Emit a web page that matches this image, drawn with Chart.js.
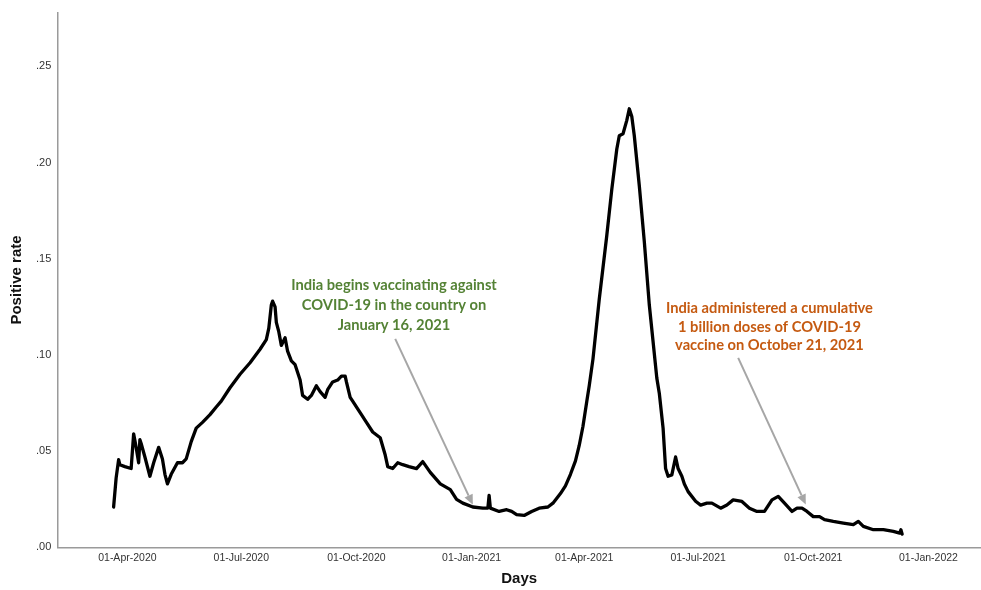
<!DOCTYPE html>
<html>
<head>
<meta charset="utf-8">
<script src="https://cdn.jsdelivr.net/npm/chart.js@4"></script>
<style>
  html, body { margin: 0; padding: 0; background: #fff; }
  #wrap { width: 981px; height: 590px; position: relative; }
</style>
</head>
<body>
<div id="wrap"><canvas id="chart"></canvas></div>
<script>
// Daily positive test rate, India (7-day smoothed)
const dates = [
  '2020-03-21','2020-03-23','2020-03-25','2020-03-26','2020-03-30','2020-04-04','2020-04-06','2020-04-08',
  '2020-04-10','2020-04-11','2020-04-12','2020-04-15','2020-04-19','2020-04-22','2020-04-26','2020-04-29',
  '2020-05-01','2020-05-03','2020-05-06','2020-05-11','2020-05-15','2020-05-18','2020-05-22','2020-05-26',
  '2020-05-31','2020-06-06','2020-06-11','2020-06-15','2020-06-22','2020-06-30','2020-07-08','2020-07-16',
  '2020-07-21','2020-07-23','2020-07-25','2020-07-26','2020-07-28','2020-07-29','2020-07-31','2020-08-02',
  '2020-08-05','2020-08-07','2020-08-10','2020-08-13','2020-08-17','2020-08-19','2020-08-23','2020-08-26',
  '2020-08-30','2020-09-02','2020-09-06','2020-09-08','2020-09-12','2020-09-16','2020-09-19','2020-09-22',
  '2020-09-23','2020-09-26','2020-09-28','2020-10-02','2020-10-05','2020-10-09','2020-10-14','2020-10-20',
  '2020-10-24','2020-10-26','2020-10-30','2020-11-03','2020-11-07','2020-11-12','2020-11-18','2020-11-23',
  '2020-11-29','2020-12-07','2020-12-15','2020-12-20','2020-12-25','2021-01-02','2021-01-10','2021-01-14',
  '2021-01-15','2021-01-16','2021-01-23','2021-01-29','2021-02-02','2021-02-06','2021-02-12','2021-02-18',
  '2021-02-24','2021-03-03','2021-03-07','2021-03-13','2021-03-17','2021-03-21','2021-03-25','2021-03-28',
  '2021-03-31','2021-04-03','2021-04-05','2021-04-08','2021-04-13','2021-04-19','2021-04-23','2021-04-27',
  '2021-04-29','2021-05-02','2021-05-05','2021-05-07','2021-05-09','2021-05-11','2021-05-15','2021-05-19',
  '2021-05-23','2021-05-29','2021-05-31','2021-06-03','2021-06-05','2021-06-07','2021-06-10','2021-06-13',
  '2021-06-15','2021-06-18','2021-06-20','2021-06-23','2021-06-29',
  '2021-07-03','2021-07-08','2021-07-12','2021-07-19','2021-07-24','2021-07-29','2021-08-05','2021-08-11',
  '2021-08-17','2021-08-23','2021-08-29','2021-09-03','2021-09-08','2021-09-14','2021-09-18','2021-09-22',
  '2021-09-26','2021-10-01','2021-10-06','2021-10-10','2021-10-17','2021-10-25','2021-11-02','2021-11-06',
  '2021-11-10','2021-11-18','2021-11-26','2021-12-04','2021-12-09','2021-12-10','2021-12-11'
];

const positiveRate = [
  0.021, 0.036, 0.0456, 0.043, 0.042, 0.041, 0.059, 0.052,
  0.044, 0.056, 0.054, 0.047, 0.037, 0.044, 0.052, 0.046,
  0.038, 0.033, 0.038, 0.044, 0.044, 0.046, 0.055, 0.062,
  0.065, 0.069, 0.073, 0.076, 0.083, 0.090, 0.096, 0.103,
  0.108, 0.114, 0.126, 0.128, 0.125, 0.117, 0.112, 0.105,
  0.109, 0.102, 0.097, 0.095, 0.087, 0.079, 0.077, 0.079,
  0.084, 0.081, 0.078, 0.082, 0.086, 0.087, 0.089, 0.089,
  0.086, 0.078, 0.076, 0.072, 0.069, 0.065, 0.060, 0.057,
  0.048, 0.042, 0.041, 0.044, 0.043, 0.042, 0.041, 0.0446,
  0.039, 0.033, 0.030, 0.025, 0.023, 0.021, 0.0204, 0.0204,
  0.027, 0.0204, 0.0187, 0.0196, 0.0187, 0.017, 0.0166, 0.0187,
  0.0204, 0.021, 0.023, 0.028, 0.032, 0.038, 0.045, 0.053,
  0.063, 0.0757, 0.084, 0.098, 0.129, 0.162, 0.186, 0.207,
  0.214, 0.215, 0.222, 0.228, 0.224, 0.214, 0.188, 0.159,
  0.126, 0.088, 0.080, 0.062, 0.041, 0.037, 0.0377, 0.047,
  0.041, 0.037, 0.033, 0.029, 0.024,
  0.022, 0.023, 0.023, 0.0204, 0.022, 0.0247, 0.0239, 0.0204,
  0.0187, 0.0187, 0.0247, 0.0265, 0.023, 0.0187, 0.0204, 0.0204,
  0.0187, 0.016, 0.016, 0.0144, 0.0135, 0.0126, 0.0118, 0.0135,
  0.0109, 0.0092, 0.0092, 0.0083, 0.0074, 0.0092, 0.0069
];

// Date-axis ticks and value-axis ticks
const xTickDates  = ['2020-04-01','2020-07-01','2020-10-01','2021-01-01','2021-04-01','2021-07-01','2021-10-01','2022-01-01'];
const xTickLabels = ['01-Apr-2020','01-Jul-2020','01-Oct-2020','01-Jan-2021','01-Apr-2021','01-Jul-2021','01-Oct-2021','01-Jan-2022'];
const yTicks = [0, 0.05, 0.10, 0.15, 0.20, 0.25];

// Callout notes: text lines, text anchor (date, rate) and arrow from/to (date, rate)
const noteLines = [
  ['India begins vaccinating against', 'COVID-19 in the country on', 'January 16, 2021'],
  ['India administered a cumulative', '1 billion doses of COVID-19', 'vaccine on October 21, 2021']
];
const noteColors = ['#548235', '#C55A11'];
const noteAnchors = [['2020-10-31', 0.126], ['2021-08-27', 0.1146]];
const noteLineHeights = [20, 18.5];
const arrowFrom = [['2020-11-01', 0.1084], ['2021-08-02', 0.0985]];
const arrowTo   = [['2021-01-02', 0.0222], ['2021-09-25', 0.0223]];

// Days counted from 01-Apr-2020
const ORIGIN = Date.UTC(2020, 3, 1);
function dayIndex(iso) {
  const [y, m, d] = iso.split('-').map(Number);
  return (Date.UTC(y, m - 1, d) - ORIGIN) / 86400000;
}

const points = dates.map((d, i) => ({ x: dayIndex(d), y: positiveRate[i] }));
const xTickValues = xTickDates.map(dayIndex);

const calloutPlugin = {
  id: 'callouts',
  afterDatasetsDraw(chart) {
    const { ctx, scales: { x, y } } = chart;
    ctx.save();
    noteLines.forEach((lines, i) => {
      // arrow
      const x0 = x.getPixelForValue(dayIndex(arrowFrom[i][0]));
      const y0 = y.getPixelForValue(arrowFrom[i][1]);
      const x1 = x.getPixelForValue(dayIndex(arrowTo[i][0]));
      const y1 = y.getPixelForValue(arrowTo[i][1]);
      const ang = Math.atan2(y1 - y0, x1 - x0);
      const head = 10, half = 4.5;
      const bx = x1 - head * Math.cos(ang), by = y1 - head * Math.sin(ang);
      ctx.strokeStyle = '#a6a6a6';
      ctx.fillStyle = '#a6a6a6';
      ctx.lineWidth = 2;
      ctx.beginPath();
      ctx.moveTo(x0, y0);
      ctx.lineTo(bx, by);
      ctx.stroke();
      ctx.beginPath();
      ctx.moveTo(x1, y1);
      ctx.lineTo(bx + half * Math.sin(ang), by - half * Math.cos(ang));
      ctx.lineTo(bx - half * Math.sin(ang), by + half * Math.cos(ang));
      ctx.closePath();
      ctx.fill();

      // text
      const cx = x.getPixelForValue(dayIndex(noteAnchors[i][0]));
      const cy = y.getPixelForValue(noteAnchors[i][1]);
      ctx.fillStyle = noteColors[i];
      ctx.font = 'bold 14.7px Lato, "Open Sans", sans-serif';
      ctx.textAlign = 'center';
      ctx.textBaseline = 'middle';
      const lh = noteLineHeights[i];
      lines.forEach((t, k) => {
        ctx.fillText(t, cx, cy + (k - (lines.length - 1) / 2) * lh);
      });
    });
    ctx.restore();
  }
};

new Chart(document.getElementById('chart'), {
  type: 'line',
  data: {
    datasets: [{
      data: points,
      borderColor: '#000',
      borderWidth: 3.3,
      pointRadius: 0,
      tension: 0,
      borderJoinStyle: 'round',
      borderCapStyle: 'round',
      fill: false
    }]
  },
  options: {
    responsive: true,
    maintainAspectRatio: false,
    animation: false,
    layout: { padding: { left: 8, top: 9, right: 0, bottom: 0 } },
    plugins: { legend: { display: false }, tooltip: { enabled: false } },
    scales: {
      x: {
        type: 'linear',
        min: -56,
        max: 682,
        grid: { display: false, drawTicks: false },
        border: { display: true, color: '#9a9a9a', width: 1.5 },
        afterBuildTicks(scale) { scale.ticks = xTickValues.map(v => ({ value: v })); },
        ticks: {
          autoSkip: false,
          maxRotation: 0,
          padding: 4,
          color: '#333',
          font: { family: '"Liberation Sans Narrow", "Liberation Sans", Arial, sans-serif', size: 10.5 },
          callback(v) { const i = xTickValues.indexOf(v); return i >= 0 ? xTickLabels[i] : ''; }
        },
        title: {
          display: true,
          text: 'Days',
          color: '#111',
          padding: { top: 2, bottom: 2 },
          font: { family: '"Liberation Sans", Arial, sans-serif', size: 15, weight: 'bold' }
        }
      },
      y: {
        type: 'linear',
        min: 0,
        max: 0.278,
        grid: { display: false, drawTicks: false },
        border: { display: true, color: '#9a9a9a', width: 1.5 },
        afterBuildTicks(scale) { scale.ticks = yTicks.map(v => ({ value: v })); },
        ticks: {
          padding: 6,
          color: '#333',
          font: { family: '"Liberation Sans", Arial, sans-serif', size: 11 },
          callback(v) { return v.toFixed(2).replace(/^0/, ''); }
        },
        title: {
          display: true,
          text: 'Positive rate',
          color: '#111',
          padding: { top: 0, bottom: 4 },
          font: { family: '"Liberation Sans", Arial, sans-serif', size: 15, weight: 'bold' }
        }
      }
    }
  },
  plugins: [calloutPlugin]
});
</script>
</body>
</html>
